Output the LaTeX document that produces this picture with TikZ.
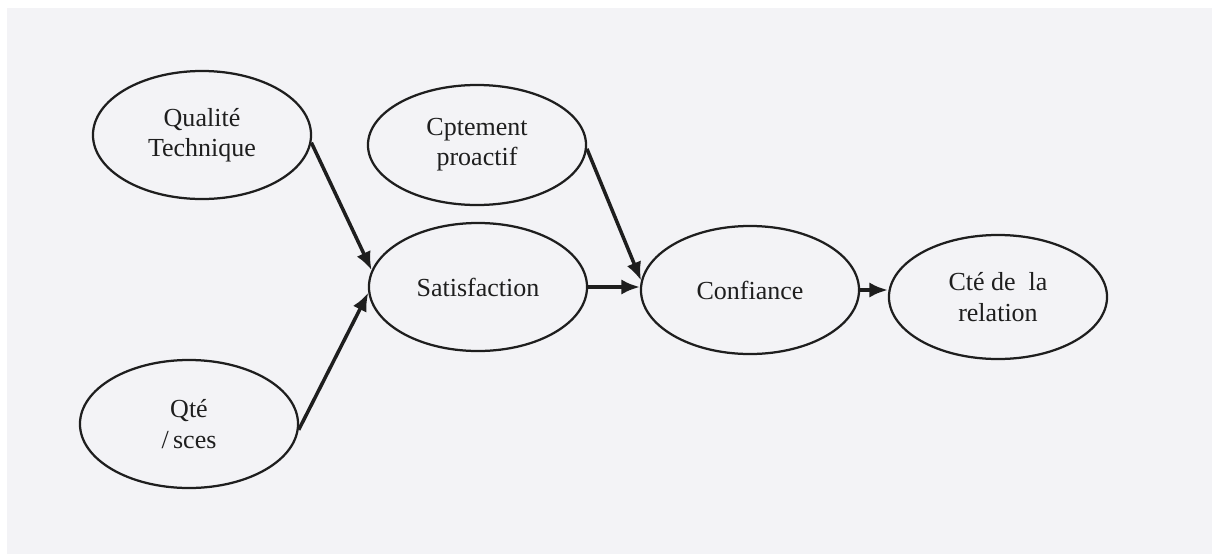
\documentclass[tikz,border=0pt]{standalone}
\usepackage{fontspec}
\setmainfont{Liberation Serif}
\usetikzlibrary{shapes.geometric,arrows.meta}
\definecolor{paper}{RGB}{243,243,246}
\definecolor{ink}{RGB}{30,30,30}
\begin{document}
\begin{tikzpicture}[
    x=0.025cm, y=-0.025cm,
    concept/.style={ellipse,draw=ink,line width=1.6pt,minimum width=5.45cm,minimum height=3.2cm,
        align=center,inner sep=0pt,text=ink,font=\fontsize{18.5}{21.5}\selectfont},
    link/.style={draw=ink,line width=2.5pt,-{Latex[length=4.6mm,width=3.8mm]}}
]
    % Paper background
    \fill[white] (0,0) rectangle (1212,554);
    \fill[paper] (7,8) rectangle (1212,554);
    \useasboundingbox (0,0) rectangle (1212,554);

    % Antecedents
    \node[concept] (qt) at (202,135) {Qualit\'e\\Technique};
    \node[concept] (qs) at (189,424) {Qt\'e\\/\,sces};
    \node[concept,minimum height=3.0cm] (cp) at (477,145) {Cptement\\proactif};

    % Chain
    \node[concept] (sat) at (478,287) {Satisfaction};
    \node[concept] (cf) at (750,290) {Confiance};
    \node[concept,minimum height=3.1cm] (cte) at (998,297) {Ct\'e de\ \ la\\relation};

    % Links
    \draw[link] (qt.-4) -- (sat.171);
    \draw[link] (qs.-3) -- (sat.183);
    \draw[link] (cp.-2) -- (cf.175);
    \draw[link] (sat.east) -- (sat.east -| cf.west);
    \draw[link] (cf.east) -- (cf.east -| cte.west);
\end{tikzpicture}
\end{document}
